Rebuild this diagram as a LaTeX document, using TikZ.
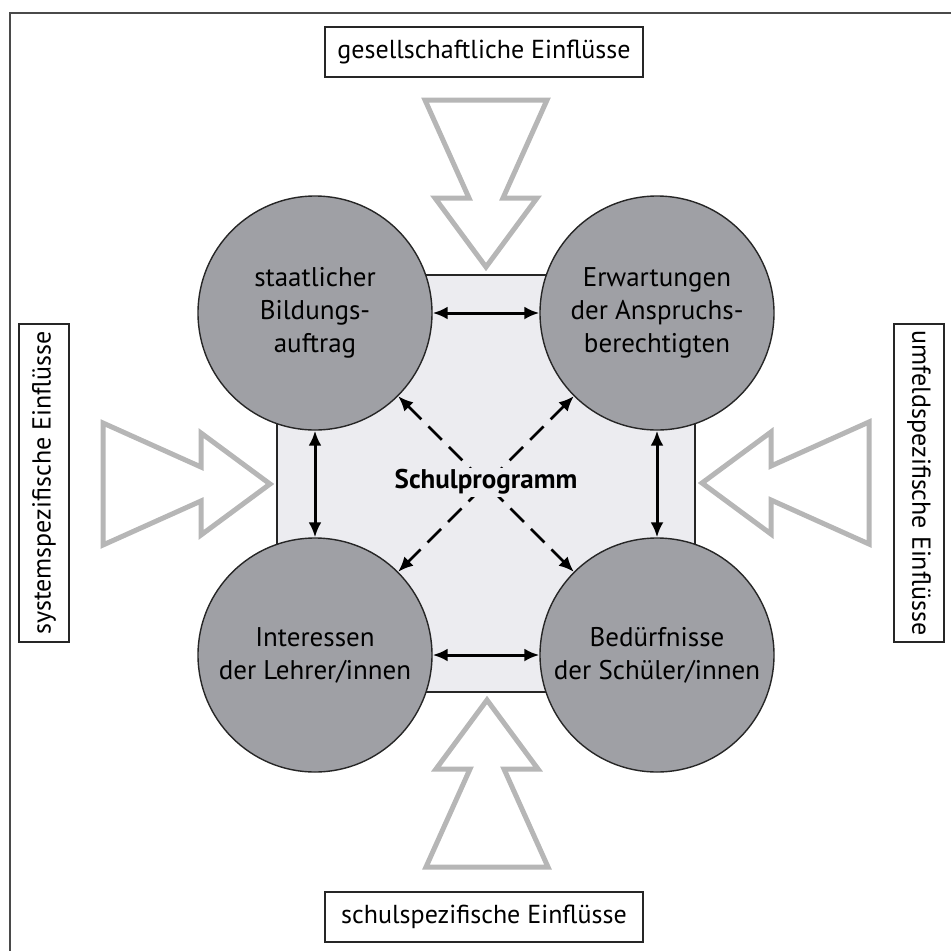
\documentclass[tikz,border=0pt]{standalone}
\usepackage{fontspec}
\setmainfont{PT Sans}
\usetikzlibrary{arrows.meta}
\definecolor{framegray}{HTML}{4A4A4A}
\definecolor{circlefill}{HTML}{9FA0A5}
\definecolor{panelfill}{HTML}{ECECF0}
\definecolor{influxgray}{HTML}{B6B6B6}
\begin{document}
\begin{tikzpicture}[x=1pt,y=-1pt,
  factor/.style={circle, draw=black!85, line width=1.4pt, fill=circlefill,
    minimum size=234pt, inner sep=0pt, align=center,
    font=\fontsize{27}{33}\selectfont},
  labelbox/.style={draw=black!85, line width=1.6pt, fill=white,
    minimum width=318pt, minimum height=50pt, inner sep=0pt,
    font=\fontsize{26}{30}\selectfont},
  link/.style={line width=3pt,
    {Latex[length=15pt,width=13pt]}-{Latex[length=15pt,width=13pt]}},
  crosslink/.style={link, line width=2.6pt, dash pattern=on 19pt off 10pt},
  influx/.style={draw=influxgray, line width=5pt, line join=miter},
  pics/influxarrow/.style={code={
    \draw[influx] (0,0) -- (-69,-51) -- (-69,-17) -- (-167,-61)
      -- (-167,61) -- (-69,17) -- (-69,51) -- cycle;}}]

\useasboundingbox (0,0) rectangle (951,951);

% outer frame (top and left edges)
\draw[line width=1.5pt, framegray] (10,951) -- (10,13) -- (951,13);

% central panel
\node[draw=black!85, line width=1.3pt, fill=panelfill, minimum width=418pt,
  minimum height=417pt, inner sep=0pt] (panel) at (486,483.5) {};

% four factors
\node[factor] (state) at (315,313) {staatlicher\\Bildungs-\\auftrag};
\node[factor] (claims) at (657,313) {Erwartungen\\der Anspruchs-\\berechtigten};
\node[factor] (teachers) at (315,655) {Interessen\\der Lehrer/innen};
\node[factor] (pupils) at (657,655) {Bedürfnisse\\der Schüler/innen};

% mutual relations
\draw[link] (state) -- (claims);
\draw[link] (teachers) -- (pupils);
\draw[link] (state) -- (teachers);
\draw[link] (claims) -- (pupils);
\draw[crosslink] (state) -- (pupils);
\draw[crosslink] (claims) -- (teachers);

\node[fill=panelfill, inner sep=2pt, font=\fontsize{27}{30}\selectfont\bfseries]
  (program) at (486,482) {Schulprogramm};

% outside influences
\pic[rotate=-90] at (486,267) {influxarrow};
\pic[rotate=0] at (270,484) {influxarrow};
\pic[rotate=180] at (702,483) {influxarrow};
\pic[rotate=90] at (487,700) {influxarrow};

\node[labelbox] (society) at (484,52) {gesellschaftliche Einflüsse};
\node[labelbox] (school) at (484,917) {schulspezifische Einflüsse};
\node[labelbox, rotate=90] (system) at (44,483) {systemspezifische Einflüsse};
\node[labelbox, rotate=-90] (environment) at (919,483) {umfeldspezifische Einflüsse};
\end{tikzpicture}
\end{document}
